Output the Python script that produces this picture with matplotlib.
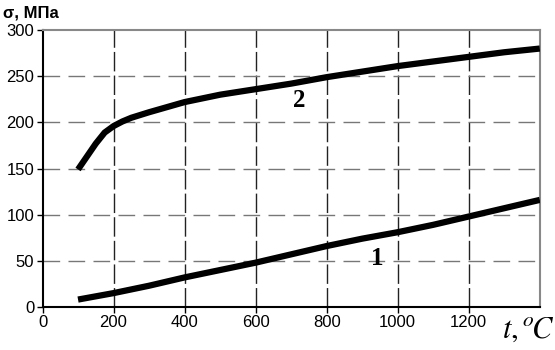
import matplotlib
matplotlib.use("Agg")
import matplotlib.pyplot as plt

# curve 1
t1 = [100, 200, 300, 400, 500, 600, 700, 800, 900, 1000, 1100, 1200, 1300, 1400]
s1 = [8, 15, 23, 32, 40, 48, 57, 66, 74, 81, 89, 98, 107, 116]
# curve 2
t2 = [100, 150, 175, 200, 225, 250, 300, 400, 500, 600, 700, 800, 900, 1000, 1100, 1200, 1300, 1400]
s2 = [149, 177, 189, 196, 201, 205, 211, 222, 230, 236, 242, 249, 255, 261, 266, 271, 276, 280]

xticks = [0, 200, 400, 600, 800, 1000, 1200]
yticks = [0, 50, 100, 150, 200, 250, 300]

plt.rcParams["font.family"] = ["Liberation Sans", "DejaVu Sans"]

fig = plt.figure(figsize=(5.55, 3.5), dpi=100)
ax = fig.add_axes([0.0766, 0.123, 0.896, 0.791])

for x in [200, 400, 600, 800, 1000, 1200]:
    ax.axvline(x, color="#222222", lw=1.0, dashes=(14, 3), zorder=1)
for y in [50, 100, 150, 200, 250]:
    ax.axhline(y, color="#777777", lw=1.0, dashes=(12, 6), zorder=1)

ax.plot(t1, s1, color="black", lw=4.5, solid_capstyle="butt", solid_joinstyle="round", zorder=3)
ax.plot(t2, s2, color="black", lw=4.5, solid_capstyle="butt", solid_joinstyle="round", zorder=3)

ax.set_xlim(0, 1400)
ax.set_ylim(0, 300)
ax.set_xticks(xticks)
ax.set_yticks(yticks)
ax.tick_params(labelsize=12, length=4, width=1, direction="out", pad=2)
ax.spines["left"].set_color("black")
ax.spines["bottom"].set_color("black")
ax.spines["top"].set_color("#888888")
ax.spines["right"].set_color("#888888")
for s in ax.spines.values():
    s.set_linewidth(1.5)

ax.text(722, 224, "2", fontsize=18, fontweight="bold", family="Liberation Serif",
        ha="center", va="center")
ax.text(942, 53, "1", fontsize=18, fontweight="bold", family="Liberation Serif",
        ha="center", va="center")

fig.text(0.005, 0.985, "σ, МПа", fontsize=12, fontweight="bold", ha="left", va="top")
fig.text(0.905, 0.034, r"$t,^{o}\!C$", fontsize=22, ha="left", va="baseline",
         math_fontfamily="stix")

fig.savefig("out.png", dpi=100)
